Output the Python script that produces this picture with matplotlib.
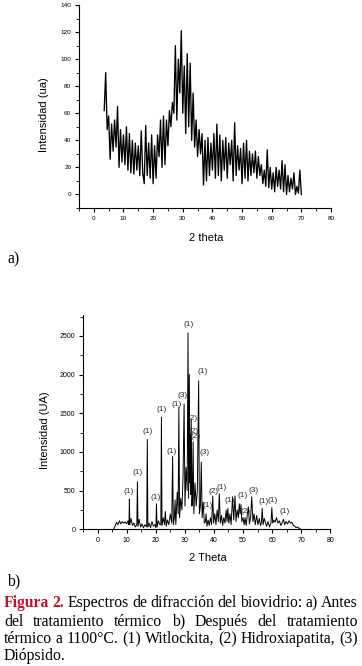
import numpy as np
import matplotlib
matplotlib.use("Agg")
import matplotlib.pyplot as plt
from matplotlib.ticker import MultipleLocator

# a) biovidrio antes del tratamiento termico: intensidad cada 0.5 grados desde 3.5
theta_a_start = 3.5
theta_a_step = 0.5
intens_a = [62, 90, 48, 58, 26, 52, 32, 55, 35, 65,
            20, 48, 24, 44, 22, 50, 18, 45, 16, 40,
            15, 38, 18, 36, 14, 47, 16, 8, 51, 14,
            38, 12, 44, 8, 36, 12, 44, 28, 55, 20,
            58, 22, 55, 36, 62, 50, 68, 60, 110, 55,
            100, 75, 121, 60, 95, 45, 104, 50, 97, 40,
            75, 35, 55, 28, 48, 30, 45, 7, 40, 10,
            42, 14, 38, 18, 45, 12, 52, 14, 44, 10,
            40, 18, 42, 12, 38, 22, 40, 10, 53, 14,
            36, 18, 34, 8, 38, 12, 40, 10, 32, 14,
            30, 16, 32, 12, 28, 14, 22, 8, 18, 6,
            33, 5, 20, 4, 16, 2, 20, 6, 18, 4,
            25, 2, 22, 0, 14, 2, 12, 4, 16, 0,
            6, 1, 18, 0]

# b) despues del tratamiento termico a 1100 C
theta_b = [5.5, 6.0, 6.5, 7.0, 7.5, 8.0, 8.5, 9.0, 9.5, 10.0,
           10.5, 10.8, 10.95, 11.1, 11.5, 12.0, 12.5, 13.0, 13.5, 13.7,
           13.9, 14.3, 14.8, 15.3, 15.8, 16.3, 16.9, 17.1, 17.3, 17.7,
           18.2, 18.7, 19.2, 19.7, 20.05, 20.25, 20.45, 20.9, 21.4, 21.75,
           21.95, 22.15, 22.6, 23.0, 23.3, 23.6, 24.0, 24.5, 25.0, 25.5,
           25.8, 26.05, 26.4, 26.65, 26.9, 27.4, 27.7, 27.95, 28.2, 28.6,
           29.0, 29.4, 29.75, 30.05, 30.4, 30.8, 31.1, 31.3, 31.55, 31.75,
           31.95, 32.05, 32.2, 32.45, 32.65, 32.85, 33.1, 33.5, 33.9, 34.3,
           34.75, 35.0, 35.35, 35.65, 35.95, 36.3, 36.7, 37.1, 37.3, 37.6,
           38.0, 38.4, 38.8, 39.2, 39.6, 39.9, 40.3, 40.7, 41.1, 41.5,
           41.85, 42.2, 42.6, 43.0, 43.4, 43.8, 44.2, 44.5, 44.8, 45.1,
           45.5, 45.9, 46.4, 46.8, 47.25, 47.6, 48.0, 48.4, 48.7, 49.0,
           49.3, 49.6, 50.0, 50.4, 50.7, 51.1, 51.5, 51.85, 52.2, 52.6,
           53.0, 53.4, 53.8, 54.2, 54.7, 55.1, 55.6, 56.0, 56.3, 56.6,
           56.9, 57.3, 57.7, 58.1, 58.6, 59.1, 59.6, 59.9, 60.2, 60.6,
           61.0, 61.5, 62.0, 62.5, 63.0, 63.5, 63.9, 64.3, 64.8, 65.3,
           65.8, 66.3, 66.8, 67.3, 67.8, 68.3, 68.8, 69.3, 70.0]
intens_b = [0, 40, 90, 60, 110, 70, 100, 80, 95, 70,
            110, 60, 390, 60, 140, 50, 80, 30, 60, 615,
            40, 130, 30, 70, 20, 60, 30, 1160, 30, 80,
            20, 100, 40, 60, 20, 330, 30, 110, 60, 60,
            1450, 50, 150, 60, 230, 40, 120, 60, 200, 80,
            940, 60, 150, 380, 60, 480, 200, 1580, 150, 400,
            250, 700, 1620, 300, 800, 500, 2540, 400, 2000, 600,
            1220, 450, 1420, 300, 500, 1130, 200, 600, 300, 500,
            1920, 200, 300, 870, 150, 350, 80, 100, 200, 40,
            120, 50, 150, 60, 430, 80, 200, 60, 250, 100,
            460, 80, 180, 50, 150, 80, 250, 100, 270, 80,
            200, 60, 420, 120, 430, 100, 250, 150, 330, 200,
            320, 100, 150, 60, 150, 50, 200, 290, 70, 150,
            420, 100, 200, 60, 180, 60, 140, 50, 80, 270,
            60, 140, 90, 40, 100, 30, 80, 280, 80, 120,
            90, 150, 80, 110, 50, 90, 130, 60, 100, 70,
            110, 80, 90, 50, 40, 20, 30, 10, 0]

# picos identificados: (1) Witlockita, (2) Hidroxiapatita, (3) Diopsido
peak_theta = [10.95, 13.7, 17.1, 20.25, 21.95, 25.8, 27.95, 29.75, 31.1,
              32.2, 31.95, 32.85, 34.75, 35.65, 37.3, 39.6, 41.85, 44.8,
              48.7, 50.7, 53.0, 56.6, 59.9, 63.9]
peak_int = [390, 615, 1160, 330, 1450, 940, 1580, 1620, 2540,
            1420, 1220, 1130, 1920, 870, 200, 430, 460, 270,
            330, 150, 420, 270, 280, 130]
peak_phase = ['1', '1', '1', '1', '1', '1', '1', '3', '1',
              '2', '2', '2', '1', '3', '1', '2', '1', '1',
              '1', '2', '3', '1', '1', '1']
# desplazamiento de cada etiqueta respecto del pico (pixeles)
label_shift = [(-1, 8), (0, 9), (0, 8.5), (-0.5, 6), (0, 8), (-0.5, 5.5),
               (-2.6, 2.5), (-1.5, 8), (1, 8.5), (1, 1), (3.4, 3.5), (2, 5),
               (3.9, 9.5), (3.6, 9), (1.8, 8), (0.4, 4.5), (2.3, 6), (1.3, 8),
               (3.4, 8.5), (0.6, 6), (2.2, 6), (1, 6.5), (0.8, 7.5), (0.8, 7.5)]

plt.rcParams['font.family'] = ['Liberation Sans', 'DejaVu Sans']

W, H = 362, 666
fig = plt.figure(figsize=(W / 100, H / 100), dpi=100)


def style_axes(ax, tick_size):
    for side in ['top', 'right']:
        ax.spines[side].set_visible(False)
    for side in ['left', 'bottom']:
        ax.spines[side].set_linewidth(0.8)
    ax.tick_params(which='major', direction='out', length=3, width=0.8,
                   labelsize=tick_size, pad=2.5)
    ax.tick_params(which='minor', direction='out', length=2, width=0.6)


# --- a) ---
ax1 = fig.add_axes([79 / W, 1 - 208 / H, 252 / W, 203 / H])
theta_a = theta_a_start + theta_a_step * np.arange(len(intens_a))
ax1.plot(theta_a, intens_a, color='black', lw=0.95)
ax1.set_xlim(-5, 80)
ax1.set_ylim(-10, 140)
ax1.xaxis.set_major_locator(MultipleLocator(10))
ax1.xaxis.set_minor_locator(MultipleLocator(5))
ax1.yaxis.set_major_locator(MultipleLocator(20))
ax1.yaxis.set_minor_locator(MultipleLocator(10))
ax1.set_yticks([0, 20, 40, 60, 80, 100, 120, 140])
style_axes(ax1, 4.6)
ax1.set_xlabel('2 theta', fontsize=8)
ax1.set_ylabel('Intensidad (ua)', fontsize=8)
ax1.xaxis.set_label_coords(0.504, -0.123)
ax1.yaxis.set_label_coords(-0.119, 0.458)

# --- b) ---
ax2 = fig.add_axes([83 / W, 1 - 529.3 / H, 247.3 / W, 214.3 / H])
ax2.plot(theta_b, intens_b, color='black', lw=0.7)
ax2.set_xlim(-5, 80)
ax2.set_ylim(0, 2770)
ax2.xaxis.set_major_locator(MultipleLocator(10))
ax2.xaxis.set_minor_locator(MultipleLocator(5))
ax2.yaxis.set_major_locator(MultipleLocator(500))
ax2.yaxis.set_minor_locator(MultipleLocator(250))
style_axes(ax2, 5)
ax2.set_xlabel('2 Theta', fontsize=8)
ax2.set_ylabel('Intensidad (UA)', fontsize=8)
ax2.xaxis.set_label_coords(0.503, -0.11)
ax2.yaxis.set_label_coords(-0.134, 0.463)

for th, it, ph, (dx, dy) in zip(peak_theta, peak_int, peak_phase, label_shift):
    ax2.annotate('(' + ph + ')', xy=(th, it), xytext=(dx, dy),
                 textcoords='offset pixels', ha='center', va='center',
                 fontsize=6, color='#2a2a3c')

# --- etiquetas y pie de figura ---
serif = ['Liberation Serif', 'DejaVu Serif']
fig.text(7 / W, 1 - 263 / H, 'a)', family=serif, fontsize=11.3, va='baseline')
fig.text(7 / W, 1 - 585 / H, 'b)', family=serif, fontsize=11.3, va='baseline')

red = '#c8102e'
caption = [
    [('Figura', red, 'bold'), ('2.', red, 'bold'), ('Espectros', 'k', 'normal'),
     ('de', 'k', 'normal'), ('difracción', 'k', 'normal'), ('del', 'k', 'normal'),
     ('biovidrio:', 'k', 'normal'), ('a)', 'k', 'normal'), ('Antes', 'k', 'normal')],
    [(w, 'k', 'normal') for w in 'del tratamiento térmico b) Después del tratamiento'.split()],
    [(w, 'k', 'normal') for w in 'térmico a 1100°C. (1) Witlockita, (2) Hidroxiapatita, (3)'.split()],
    [('Diópsido.', 'k', 'normal')],
]
baselines = [607, 625.5, 643, 660.5]
left, right = 4, 358

renderer = fig.canvas.get_renderer()
for i, (words, yb) in enumerate(zip(caption, baselines)):
    texts = []
    for w, c, fw in words:
        t = fig.text(0, 1 - yb / H, w, family=serif, fontsize=11.3, color=c,
                     fontweight=fw, va='baseline')
        texts.append(t)
    widths = [t.get_window_extent(renderer).width for t in texts]
    if i < len(caption) - 1 and len(texts) > 1:
        gap = (right - left - sum(widths)) / (len(texts) - 1)
    else:
        gap = 3
    x = left
    for t, wd in zip(texts, widths):
        t.set_x(x / W)
        x += wd + gap

fig.savefig('out.png', dpi=100)
